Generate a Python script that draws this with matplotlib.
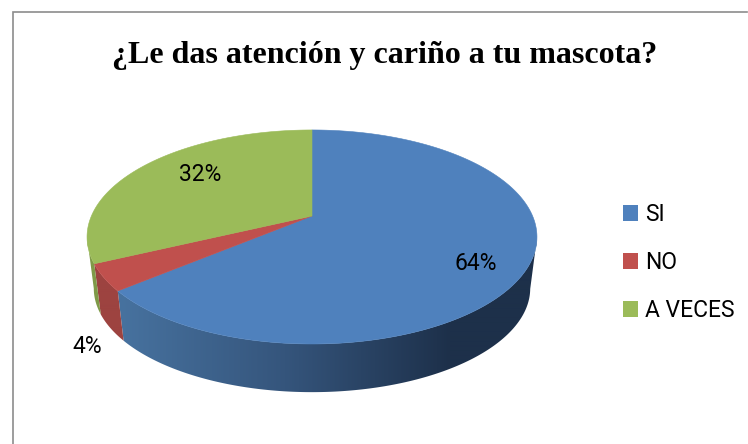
import numpy as np
from matplotlib import pyplot as plt
from matplotlib.patches import Patch, Polygon
from matplotlib.colors import to_rgb

categories = ["SI", "NO", "A VECES"]
values = [64, 4, 32]
colors = ["#4f81bd", "#c0504d", "#9bbb59"]
wall_colors = [["#47729f", "#35557c", "#1d304a"], ["#9d4340", "#9d4340"], ["#7f9a48", "#7f9a48"]]
title = "¿Le das atención y cariño a tu mascota?"

W, H = 748, 444
# perspective of the pie, in pixels
CX, CY = 312, 216
BX, BY, K = 220.6, 102.9, 0.196
DROP, SHRINK = 52, 0.97

def project(angle, lower = False):
    u, v = np.cos(angle), np.sin(angle)
    w = 1 + K * v
    x = BX * u / w
    y = -BY * v / w
    if lower:
        return CX + SHRINK * x, CY + DROP + SHRINK * y
    return CX + x, CY + y

def wall_gradient(stops, xs):
    stops = np.array([to_rgb(c) for c in stops])
    t = np.clip((xs - 120) / (450 - 120), 0, 1) * (len(stops) - 1)
    return np.stack([np.interp(t, np.arange(len(stops)), stops[:, i]) for i in range(3)], axis = -1)

fig = plt.figure(figsize = (W / 100, H / 100), dpi = 100)
ax = fig.add_axes([0, 0, 1, 1])

# chart frame
ax.plot([13, 13, W - 1], [H, 12, 12], color = "#8c8c8c", lw = 1.2, solid_joinstyle = "miter")

fractions = np.array(values) / sum(values)
edges = np.pi / 2 - 2 * np.pi * np.concatenate([[0], np.cumsum(fractions)])

# side walls first, only the part facing the viewer (silhouette is at sin = -K)
for i in range(len(values)):
    grid = np.linspace(edges[i], edges[i + 1], 400)
    grid = grid[np.sin(grid) < -K]
    xt, yt = project(grid)
    xb, yb = project(grid, True)
    outline = np.column_stack([np.r_[xt, xb[::-1]], np.r_[yt, yb[::-1]]])
    xs = np.arange(60, 560)
    img = wall_gradient(wall_colors[i], xs)[np.newaxis, :, :]
    im = ax.imshow(img, extent = (60, 560, 420, 120), aspect = "auto", interpolation = "bilinear", zorder = 1)
    clip = Polygon(outline, closed = True, transform = ax.transData)
    im.set_clip_path(clip)

# top faces
for i in range(len(values)):
    grid = np.linspace(edges[i], edges[i + 1], 300)
    xs, ys = project(grid)
    ax.fill(np.r_[CX, xs], np.r_[CY, ys], color = colors[i], lw = 0.4, zorder = 2)

ax.set_xlim(0, W)
ax.set_ylim(H, 0)
ax.axis("off")

ax.text(385, 55, title, family = "Liberation Serif", weight = "bold", fontsize = 23,
        ha = "center", va = "center", color = "black")

label_pos = [(476, 263), (87, 346), (200, 174)]
for v, (x, y) in zip(values, label_pos):
    ax.text(x, y, f"{v}%", family = "Roboto", fontsize = 16.5, ha = "center", va = "center", color = "black")

handles = [Patch(facecolor = c, edgecolor = "none") for c in colors]
ax.legend(handles, categories, loc = "upper left", bbox_to_anchor = (623 / W, 1 - 203 / H),
          prop = {"family": "Roboto", "size": 16.5}, frameon = False, handlelength = 0.66,
          handleheight = 0.66, handletextpad = 0.32, labelspacing = 1.095, borderpad = 0, borderaxespad = 0)

fig.savefig("out.png", dpi = 100)
